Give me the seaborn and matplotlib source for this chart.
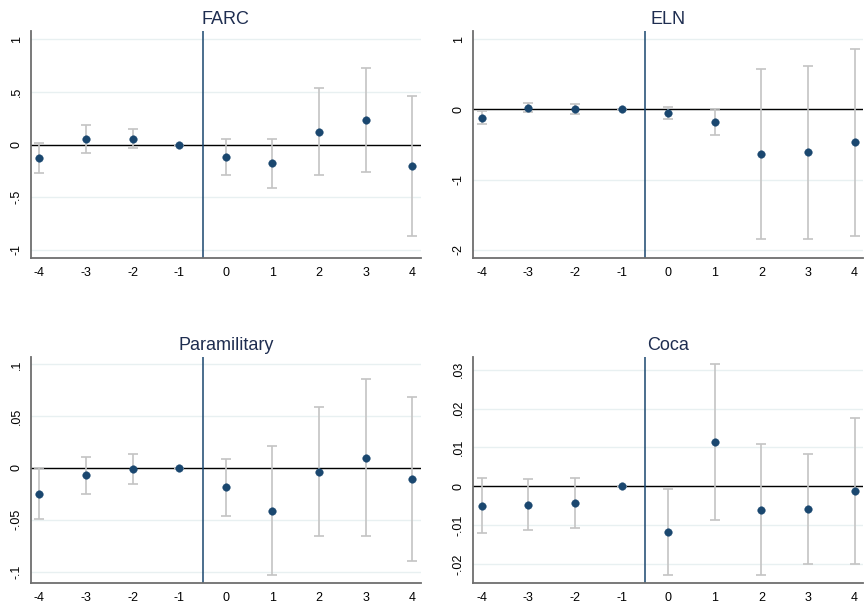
import numpy as np
import pandas as pd
import matplotlib
matplotlib.use("Agg")
import matplotlib.pyplot as plt
import seaborn as sns

# ---------------- data ----------------
periods = [-4, -3, -2, -1, 0, 1, 2, 3, 4]
period_labels = ["-4", "-3", "-2", "-1", "0", "1", "2", "3", "4"]

farc_coef = [-0.123, 0.054, 0.057, 0.0, -0.120, -0.177, 0.123, 0.234, -0.203]
farc_lo = [-0.266, -0.076, -0.035, 0.0, -0.288, -0.415, -0.291, -0.256, -0.864]
farc_hi = [0.016, 0.187, 0.152, 0.0, 0.051, 0.057, 0.538, 0.728, 0.459]
farc_ticks = [-1, -0.5, 0, 0.5, 1]
farc_ticklabels = ["-1", "-.5", "0", ".5", "1"]

eln_coef = [-0.118, 0.024, 0.005, 0.0, -0.047, -0.175, -0.640, -0.611, -0.469]
eln_lo = [-0.213, -0.043, -0.071, 0.0, -0.133, -0.365, -1.844, -1.839, -1.796]
eln_hi = [-0.024, 0.085, 0.081, 0.0, 0.038, 0.009, 0.569, 0.621, 0.863]
eln_ticks = [-2, -1, 0, 1]
eln_ticklabels = ["-2", "-1", "0", "1"]

para_coef = [-0.0248, -0.0071, -0.0010, 0.0, -0.0183, -0.0412, -0.0035, 0.0100, -0.0103]
para_lo = [-0.0495, -0.0248, -0.0151, 0.0, -0.0463, -0.1032, -0.0656, -0.0656, -0.0894]
para_hi = [0.0000, 0.0106, 0.0132, 0.0, 0.0090, 0.0209, 0.0588, 0.0862, 0.0685]
para_ticks = [-0.1, -0.05, 0, 0.05, 0.1]
para_ticklabels = ["-.1", "-.05", "0", ".05", ".1"]

coca_coef = [-0.00498, -0.00473, -0.00430, 0.0, -0.01177, 0.01134, -0.00610, -0.00593, -0.00120]
coca_lo = [-0.01200, -0.01134, -0.01074, 0.0, -0.02285, -0.00876, -0.02285, -0.02002, -0.01993]
coca_hi = [0.00206, 0.00198, 0.00223, 0.0, -0.00077, 0.03144, 0.01091, 0.00825, 0.01761]
coca_ticks = [-0.02, -0.01, 0, 0.01, 0.02, 0.03]
coca_ticklabels = ["-.02", "-.01", "0", ".01", ".02", ".03"]

titles = ["FARC", "ELN", "Paramilitary", "Coca"]
treatment_line = -0.5

# ---------------- style ----------------
sns.set_style("white")
plt.rcParams["font.family"] = ["Liberation Sans", "DejaVu Sans"]

NAVY = "#1a476f"
TITLE_C = "#1e2d50"
CI_C = "#c4c4c4"
GRID_C = "#e8f0f1"
SPINE_C = "#6e6e6e"

fig = plt.figure(figsize=(8.64, 6.07), dpi=100)

W = 0.451
positions = [
    [0.0359, 0.5745, W, 0.3744],
    [0.5478, 0.5745, W, 0.3744],
    [0.0359, 0.0390, W, 0.3734],
    [0.5478, 0.0390, W, 0.3734],
]
panels = [
    (farc_coef, farc_lo, farc_hi, farc_ticks, farc_ticklabels, (-1.08, 1.08)),
    (eln_coef, eln_lo, eln_hi, eln_ticks, eln_ticklabels, (-2.118, 1.114)),
    (para_coef, para_lo, para_hi, para_ticks, para_ticklabels, (-0.1113, 0.1074)),
    (coca_coef, coca_lo, coca_hi, coca_ticks, coca_ticklabels, (-0.0250, 0.0334)),
]

for pos, title, (coef, lo, hi, ticks, tlabels, ylim) in zip(positions, titles, panels):
    ax = fig.add_axes(pos)
    df = pd.DataFrame({"period": periods, "coef": coef, "lo": lo, "hi": hi})
    # grid lines
    for t in ticks:
        ax.axhline(t, color=GRID_C, lw=1.0, zorder=0)
    ax.axhline(0, color="black", lw=1.0, zorder=1)
    ax.axvline(treatment_line, color=NAVY, lw=1.1, zorder=1)
    yerr = np.vstack([df["coef"] - df["lo"], df["hi"] - df["coef"]])
    ax.errorbar(df["period"], df["coef"], yerr=yerr, fmt="none",
                ecolor=CI_C, elinewidth=1.2, capsize=3.3, capthick=1.2, zorder=2)
    sns.scatterplot(data=df, x="period", y="coef", ax=ax, color=NAVY, s=30,
                    edgecolor=NAVY, linewidth=0.3, zorder=3, legend=False)
    ax.set_xlim(-4.18, 4.18)
    ax.set_ylim(*ylim)
    ax.set_xticks(periods)
    ax.set_xticklabels(period_labels, fontsize=9)
    ax.set_yticks(ticks)
    ax.set_yticklabels(tlabels, fontsize=9, rotation=90, va="center")
    ax.set_xlabel("")
    ax.set_ylabel("")
    ax.set_title(title, fontsize=13, color=TITLE_C, pad=5)
    for s in ["top", "right"]:
        ax.spines[s].set_visible(False)
    for s in ["left", "bottom"]:
        ax.spines[s].set_color(SPINE_C)
        ax.spines[s].set_linewidth(1.3)
    ax.tick_params(axis="both", direction="out", length=4, width=1,
                   color=SPINE_C, labelcolor="black", pad=2)
    ax.grid(False)

fig.savefig("out.png", dpi=100)
